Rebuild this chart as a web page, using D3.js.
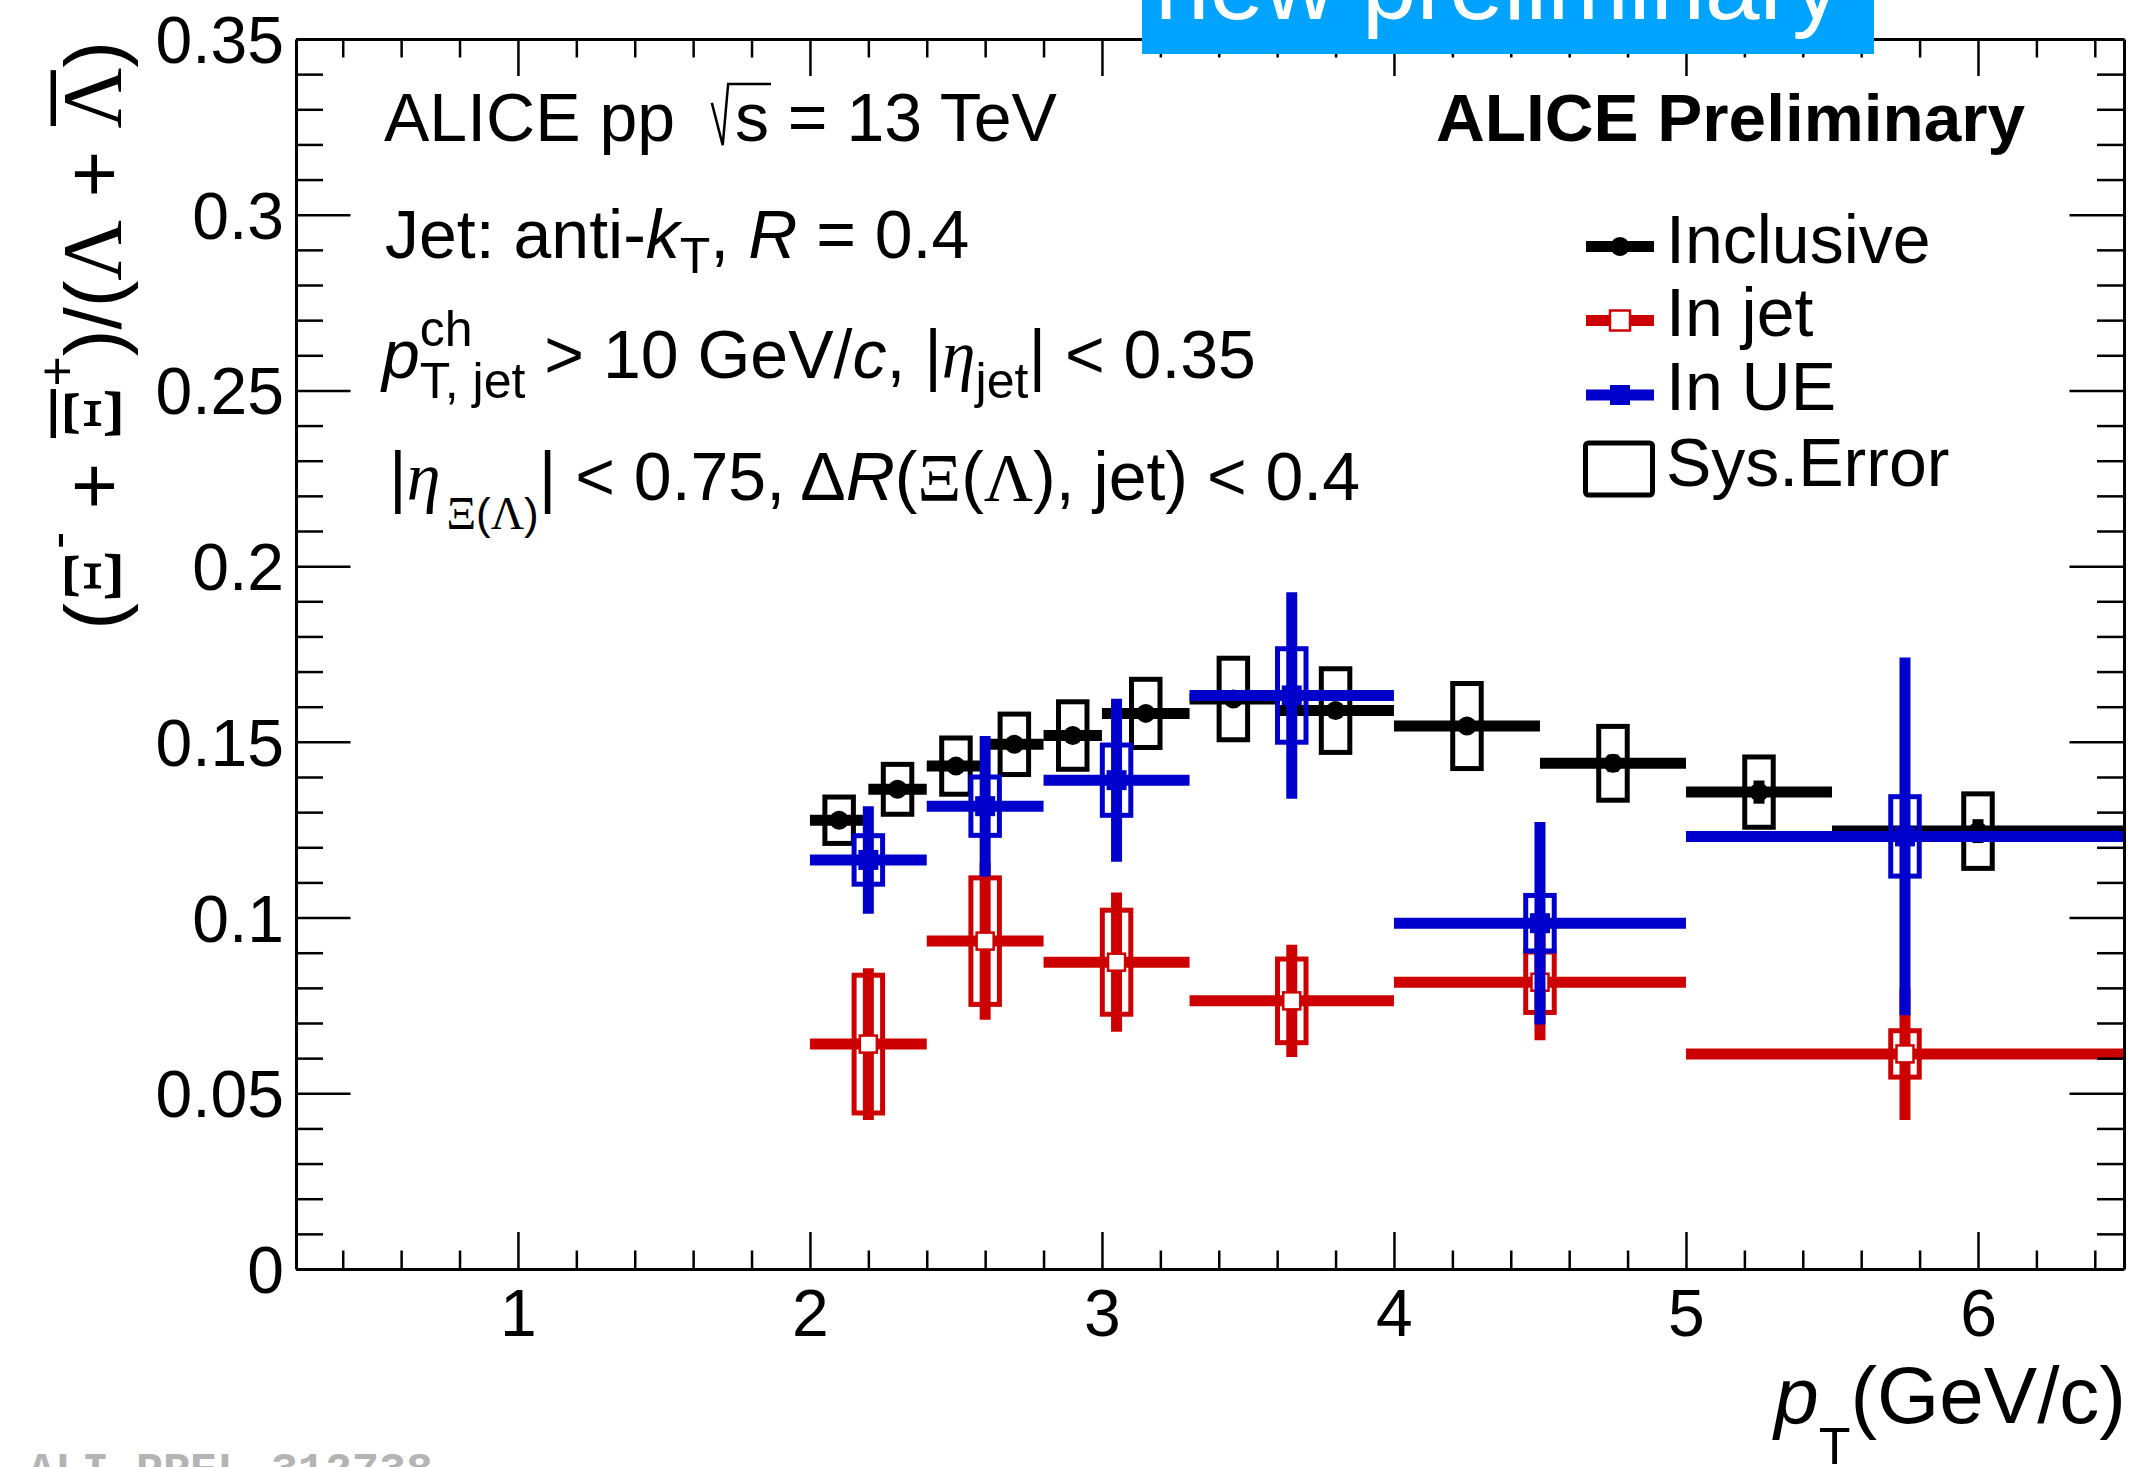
<!DOCTYPE html>
<html><head><meta charset="utf-8">
<script src="https://cdn.jsdelivr.net/npm/d3@7"></script>
<style>html,body{margin:0;padding:0;background:#fff;overflow:hidden} text{white-space:pre}</style>
</head><body>
<svg id="c" width="2151" height="1467" xmlns="http://www.w3.org/2000/svg"></svg>
<script>
// ---------------- DATA ----------------
const inclusiveBinLow  = [2.0, 2.2, 2.4, 2.6, 2.8, 3.0, 3.3, 3.6, 4.0, 4.5, 5.0, 5.5];
const inclusiveBinHigh = [2.2, 2.4, 2.6, 2.8, 3.0, 3.3, 3.6, 4.0, 4.5, 5.0, 5.5, 6.5];
const inclusivePt      = [2.1, 2.3, 2.5, 2.7, 2.9, 3.15, 3.45, 3.8, 4.25, 4.75, 5.25, 6.0];
const inclusiveRatio   = [0.1277, 0.1365, 0.1431, 0.1493, 0.1518, 0.1581, 0.1622, 0.1589, 0.1545, 0.1439, 0.1357, 0.1246];
const inclusiveStat    = [0.0008, 0.0009, 0.0010, 0.0011, 0.0012, 0.0013, 0.0016, 0.0018, 0.0020, 0.0025, 0.0033, 0.0034];
const inclusiveSys     = [0.0066, 0.0071, 0.0080, 0.0086, 0.0096, 0.0097, 0.0116, 0.0119, 0.0121, 0.0105, 0.0100, 0.0106];

const jetBinLow  = [2.0, 2.4, 2.8, 3.3, 4.0, 5.0];
const jetBinHigh = [2.4, 2.8, 3.3, 4.0, 5.0, 6.5];
const jetPt      = [2.2, 2.6, 3.05, 3.65, 4.5, 5.75];
const inJetRatio = [0.0640, 0.0933, 0.0873, 0.0763, 0.0816, 0.0612];
const inJetStat  = [0.0216, 0.0224, 0.0198, 0.0160, 0.0165, 0.0188];
const inJetSys   = [0.0196, 0.0180, 0.0148, 0.0119, 0.0086, 0.0066];

const inUERatio = [0.1164, 0.1317, 0.1391, 0.1632, 0.0984, 0.1231];
const inUEStat  = [0.0153, 0.0200, 0.0232, 0.0294, 0.0288, 0.0509];
const inUESys   = [0.0069, 0.0083, 0.0100, 0.0133, 0.0079, 0.0113];

const xTickValues = [1, 2, 3, 4, 5, 6];
const xTickLabels = ["1", "2", "3", "4", "5", "6"];
const yTickValues = [0, 0.05, 0.1, 0.15, 0.2, 0.25, 0.3, 0.35];
const yTickLabels = ["0", "0.05", "0.1", "0.15", "0.2", "0.25", "0.3", "0.35"];
const legendLabels = ["Inclusive", "In jet", "In UE", "Sys.Error"];

// ---------------- SETUP ----------------
const RED = "#cc0000", BLUE = "#0000cc", BLACK = "#000000";
const FAM = {
  sans: "'Liberation Sans', Arial, Helvetica, sans-serif",
  serif: "'Liberation Serif', 'Times New Roman', serif",
  mono: "'Liberation Mono', 'Courier New', monospace"
};
const svg = d3.select("#c");
svg.append("rect").attr("width", 2151).attr("height", 1467).attr("fill", "#fff");

const frame = {left: 296, right: 2124, top: 39, bottom: 1269};
const x = d3.scaleLinear().domain([0.24, 6.5]).range([frame.left, frame.right]);
const y = d3.scaleLinear().domain([0, 0.35]).range([frame.bottom, frame.top]);

svg.append("clipPath").attr("id", "clip").append("rect")
  .attr("x", frame.left).attr("y", frame.top)
  .attr("width", frame.right - frame.left).attr("height", frame.bottom - frame.top);

// ---------------- rich text helper ----------------
const meas = svg.append("text").attr("visibility", "hidden").attr("x", -1000).attr("y", -1000).style("white-space", "pre");
function styleText(sel, r, base) {
  sel.attr("font-family", FAM[r.fam || base.fam || "sans"])
    .attr("font-size", r.size || base.size)
    .attr("font-style", r.italic ? "italic" : "normal")
    .attr("font-weight", (r.bold || base.bold) ? "bold" : "normal")
    .attr("fill", r.fill || base.fill || "#000")
    .style("white-space", "pre");
}
function tw(r, base) { styleText(meas, r, base); meas.text(r.t); return meas.node().getComputedTextLength(); }
function rich(g, x0, y0, runs, base, anchor) {
  let cx = 0; const items = [];
  runs.forEach(r => {
    if (r.stack) {
      let w = 0;
      r.stack.forEach(s => { const ww = tw(s, base); items.push({r: s, x: cx, w: ww}); w = Math.max(w, ww); });
      cx += w;
    } else {
      cx += r.pad || 0;
      const w = tw(r, base);
      items.push({r, x: cx, w});
      cx += w + (r.padR || 0);
    }
  });
  const off = anchor === "end" ? -cx : anchor === "middle" ? -cx / 2 : 0;
  items.forEach(it => {
    const r = it.r, sz = r.size || base.size;
    const xx = x0 + off + it.x, yy = y0 + (r.dy || 0);
    const t = g.append("text").attr("x", xx).attr("y", yy).text(r.t);
    styleText(t, r, base);
    const col = r.fill || base.fill || "#000";
    if (r.overline) {
      g.append("line").attr("x1", xx + 0.03 * sz).attr("x2", xx + it.w - 0.03 * sz)
        .attr("y1", yy - 0.8 * sz).attr("y2", yy - 0.8 * sz)
        .attr("stroke", col).attr("stroke-width", 0.065 * sz);
    }
    if (r.sqrt) {
      g.append("path")
        .attr("d", `M${xx - 0.34 * sz},${yy - 0.56 * sz} L${xx - 0.18 * sz},${yy + 0.06 * sz} L${xx - 0.10 * sz},${yy - 0.84 * sz} L${xx + it.w + 0.03 * sz},${yy - 0.84 * sz}`)
        .attr("fill", "none").attr("stroke", col).attr("stroke-width", 2.5);
    }
  });
  return cx;
}

// ---------------- DATA DRAWING ----------------
const dataG = svg.append("g").attr("clip-path", "url(#clip)");
const BOXHALF = 14.25;
function drawSeries(pt, lo, hi, val, stat, sys, color, marker) {
  const g = dataG.append("g");
  g.selectAll("rect.sys").data(val).enter().append("rect").attr("class", "sys")
    .attr("x", (d, i) => x(pt[i]) - BOXHALF).attr("width", 2 * BOXHALF)
    .attr("y", (d, i) => y(d + sys[i])).attr("height", (d, i) => y(d - sys[i]) - y(d + sys[i]))
    .attr("fill", "none").attr("stroke", color).attr("stroke-width", 5);
  g.selectAll("line.h").data(val).enter().append("line").attr("class", "h")
    .attr("x1", (d, i) => x(lo[i])).attr("x2", (d, i) => x(hi[i]))
    .attr("y1", d => y(d)).attr("y2", d => y(d))
    .attr("stroke", color).attr("stroke-width", 11);
  g.selectAll("line.v").data(val).enter().append("line").attr("class", "v")
    .attr("x1", (d, i) => x(pt[i])).attr("x2", (d, i) => x(pt[i]))
    .attr("y1", (d, i) => y(d - stat[i])).attr("y2", (d, i) => y(d + stat[i]))
    .attr("stroke", color).attr("stroke-width", 11);
  if (marker === "circle") {
    g.selectAll("circle").data(val).enter().append("circle")
      .attr("cx", (d, i) => x(pt[i])).attr("cy", d => y(d)).attr("r", 9.5).attr("fill", color);
  } else if (marker === "open") {
    g.selectAll("rect.m").data(val).enter().append("rect").attr("class", "m")
      .attr("x", (d, i) => x(pt[i]) - 8.5).attr("y", d => y(d) - 8.5).attr("width", 17).attr("height", 17)
      .attr("fill", "#fff").attr("stroke", color).attr("stroke-width", 2.5);
  } else {
    g.selectAll("rect.m").data(val).enter().append("rect").attr("class", "m")
      .attr("x", (d, i) => x(pt[i]) - 10).attr("y", d => y(d) - 10).attr("width", 20).attr("height", 20)
      .attr("fill", color);
  }
}
drawSeries(inclusivePt, inclusiveBinLow, inclusiveBinHigh, inclusiveRatio, inclusiveStat, inclusiveSys, BLACK, "circle");
drawSeries(jetPt, jetBinLow, jetBinHigh, inJetRatio, inJetStat, inJetSys, RED, "open");
drawSeries(jetPt, jetBinLow, jetBinHigh, inUERatio, inUEStat, inUESys, BLUE, "filled");

// ---------------- AXES ----------------
const minorX = d3.range(0.4, 6.5, 0.2).filter(v => Math.abs(v - Math.round(v)) > 1e-6);
const minorY = d3.range(0.01, 0.35, 0.01).filter(v => Math.abs(v / 0.05 - Math.round(v / 0.05)) > 1e-6);
function styleAxis(g, showLabels) {
  g.selectAll("line").attr("stroke", "#000").attr("stroke-width", 2.5);
  g.selectAll("path.domain").attr("stroke", "#000").attr("stroke-width", 3);
  g.selectAll("text").attr("font-family", FAM.sans).attr("font-size", 66).attr("fill", "#000");
  if (!showLabels) g.selectAll("text").remove();
}
const gxb = svg.append("g").attr("transform", `translate(0,${frame.bottom})`)
  .call(d3.axisBottom(x).tickValues(xTickValues).tickFormat((d, i) => xTickLabels[i]).tickSizeInner(-37).tickSizeOuter(0).tickPadding(20));
styleAxis(gxb, true);
const gxbm = svg.append("g").attr("transform", `translate(0,${frame.bottom})`)
  .call(d3.axisBottom(x).tickValues(minorX).tickFormat("").tickSizeInner(-18.5).tickSizeOuter(0));
styleAxis(gxbm, false); gxbm.select("path.domain").remove();
const gxt = svg.append("g").attr("transform", `translate(0,${frame.top})`)
  .call(d3.axisTop(x).tickValues(xTickValues).tickFormat("").tickSizeInner(-37).tickSizeOuter(0));
styleAxis(gxt, false);
const gxtm = svg.append("g").attr("transform", `translate(0,${frame.top})`)
  .call(d3.axisTop(x).tickValues(minorX).tickFormat("").tickSizeInner(-18.5).tickSizeOuter(0));
styleAxis(gxtm, false); gxtm.select("path.domain").remove();
const gyl = svg.append("g").attr("transform", `translate(${frame.left},0)`)
  .call(d3.axisLeft(y).tickValues(yTickValues).tickFormat((d, i) => yTickLabels[i]).tickSizeInner(-54.5).tickSizeOuter(0).tickPadding(12));
styleAxis(gyl, true);
gyl.selectAll("text").attr("dy", "0.355em");
const gylm = svg.append("g").attr("transform", `translate(${frame.left},0)`)
  .call(d3.axisLeft(y).tickValues(minorY).tickFormat("").tickSizeInner(-27).tickSizeOuter(0));
styleAxis(gylm, false); gylm.select("path.domain").remove();
const gyr = svg.append("g").attr("transform", `translate(${frame.right},0)`)
  .call(d3.axisRight(y).tickValues(yTickValues).tickFormat("").tickSizeInner(-54.5).tickSizeOuter(0));
styleAxis(gyr, false);
const gyrm = svg.append("g").attr("transform", `translate(${frame.right},0)`)
  .call(d3.axisRight(y).tickValues(minorY).tickFormat("").tickSizeInner(-27).tickSizeOuter(0));
styleAxis(gyrm, false); gyrm.select("path.domain").remove();

// ---------------- AXIS TITLES ----------------
const tg = svg.append("g");
rich(tg, 2126, 1423, [
  {t: "p", italic: true},
  {t: "T", size: 52, dy: 41},
  {t: "(GeV/c)"}
], {size: 80}, "end");

const yt = svg.append("g").attr("transform", "translate(120.5,41) rotate(-90)");
rich(yt, 0, 0, [
  {t: "("},
  {t: "Ξ", fam: "serif", size: 84},
  {t: "-", size: 52, dy: -46},
  {t: " + "},
  {t: "Ξ", fam: "serif", size: 84, overline: true},
  {t: "+", size: 52, dy: -46},
  {t: ")/("},
  {t: "Λ", fam: "serif", size: 84},
  {t: " + "},
  {t: "Λ", fam: "serif", size: 84, overline: true},
  {t: ")"}
], {size: 80}, "end");

// ---------------- ANNOTATIONS ----------------
const ag = svg.append("g");
rich(ag, 384, 141, [
  {t: "ALICE pp "},
  {t: "s", sqrt: true, pad: 41},
  {t: " = 13 TeV"}
], {size: 68});
rich(ag, 385, 258, [
  {t: "Jet: anti-"},
  {t: "k", italic: true},
  {t: "T", size: 50, dy: 15},
  {t: ", "},
  {t: "R", italic: true},
  {t: " = 0.4"}
], {size: 68});
rich(ag, 382, 378, [
  {t: "p", italic: true},
  {stack: [{t: "ch", size: 50, dy: -32}, {t: "T, jet", size: 50, dy: 20}]},
  {t: " > 10 GeV/"},
  {t: "c", italic: true},
  {t: ", |"},
  {t: "η", italic: true, fam: "serif"},
  {t: "jet", size: 50, dy: 20},
  {t: "| < 0.35"}
], {size: 68});
rich(ag, 389, 500, [
  {t: "|"},
  {t: "η", italic: true, fam: "serif", padR: 6},
  {t: "Ξ", fam: "serif", size: 46, dy: 29},
  {t: "(", size: 44, dy: 29},
  {t: "Λ", fam: "serif", size: 46, dy: 29},
  {t: ")", size: 44, dy: 29},
  {t: "| < 0.75, Δ"},
  {t: "R", italic: true},
  {t: "("},
  {t: "Ξ", fam: "serif"},
  {t: "("},
  {t: "Λ", fam: "serif"},
  {t: "), jet) < 0.4"}
], {size: 68});
rich(ag, 2025, 141, [{t: "ALICE Preliminary"}], {size: 67.5, bold: true}, "end");

// ---------------- LEGEND ----------------
const lg = svg.append("g");
const legRowY = [246.5, 320.5, 395, 469];
const legBase = [263, 336, 410, 486];
const legX1 = 1586, legX2 = 1654, legXc = 1620;
const legColors = [BLACK, RED, BLUE];
legColors.forEach((c, i) => {
  lg.append("line").attr("x1", legX1).attr("x2", legX2).attr("y1", legRowY[i]).attr("y2", legRowY[i])
    .attr("stroke", c).attr("stroke-width", 11);
});
lg.append("circle").attr("cx", legXc).attr("cy", legRowY[0]).attr("r", 9.5).attr("fill", BLACK);
lg.append("rect").attr("x", legXc - 10).attr("y", legRowY[1] - 10).attr("width", 20).attr("height", 20)
  .attr("fill", "#fff").attr("stroke", RED).attr("stroke-width", 2.5);
lg.append("rect").attr("x", legXc - 10).attr("y", legRowY[2] - 10).attr("width", 20).attr("height", 20).attr("fill", BLUE);
lg.append("rect").attr("x", 1585.5).attr("y", 443).attr("width", 67).attr("height", 52).attr("rx", 3)
  .attr("fill", "none").attr("stroke", BLACK).attr("stroke-width", 5);
legendLabels.forEach((l, i) => {
  lg.append("text").attr("x", 1666).attr("y", legBase[i]).text(l)
    .attr("font-family", FAM.sans).attr("font-size", 68).attr("fill", "#000");
});

// ---------------- BANNER / WATERMARK ----------------
svg.append("rect").attr("x", 1142).attr("y", 0).attr("width", 732).attr("height", 54).attr("fill", "#00a3ff");
svg.append("text").attr("x", 1155).attr("y", 19).text("new preliminary")
  .attr("font-family", FAM.sans).attr("font-size", 98).attr("fill", "#fff");
svg.append("text").attr("x", 28).attr("y", 1483).text("ALI-PREL-312738")
  .attr("font-family", FAM.mono).attr("font-weight", "bold").attr("font-size", 45).attr("fill", "#b4b4b4");
meas.remove();
</script>
</body></html>
